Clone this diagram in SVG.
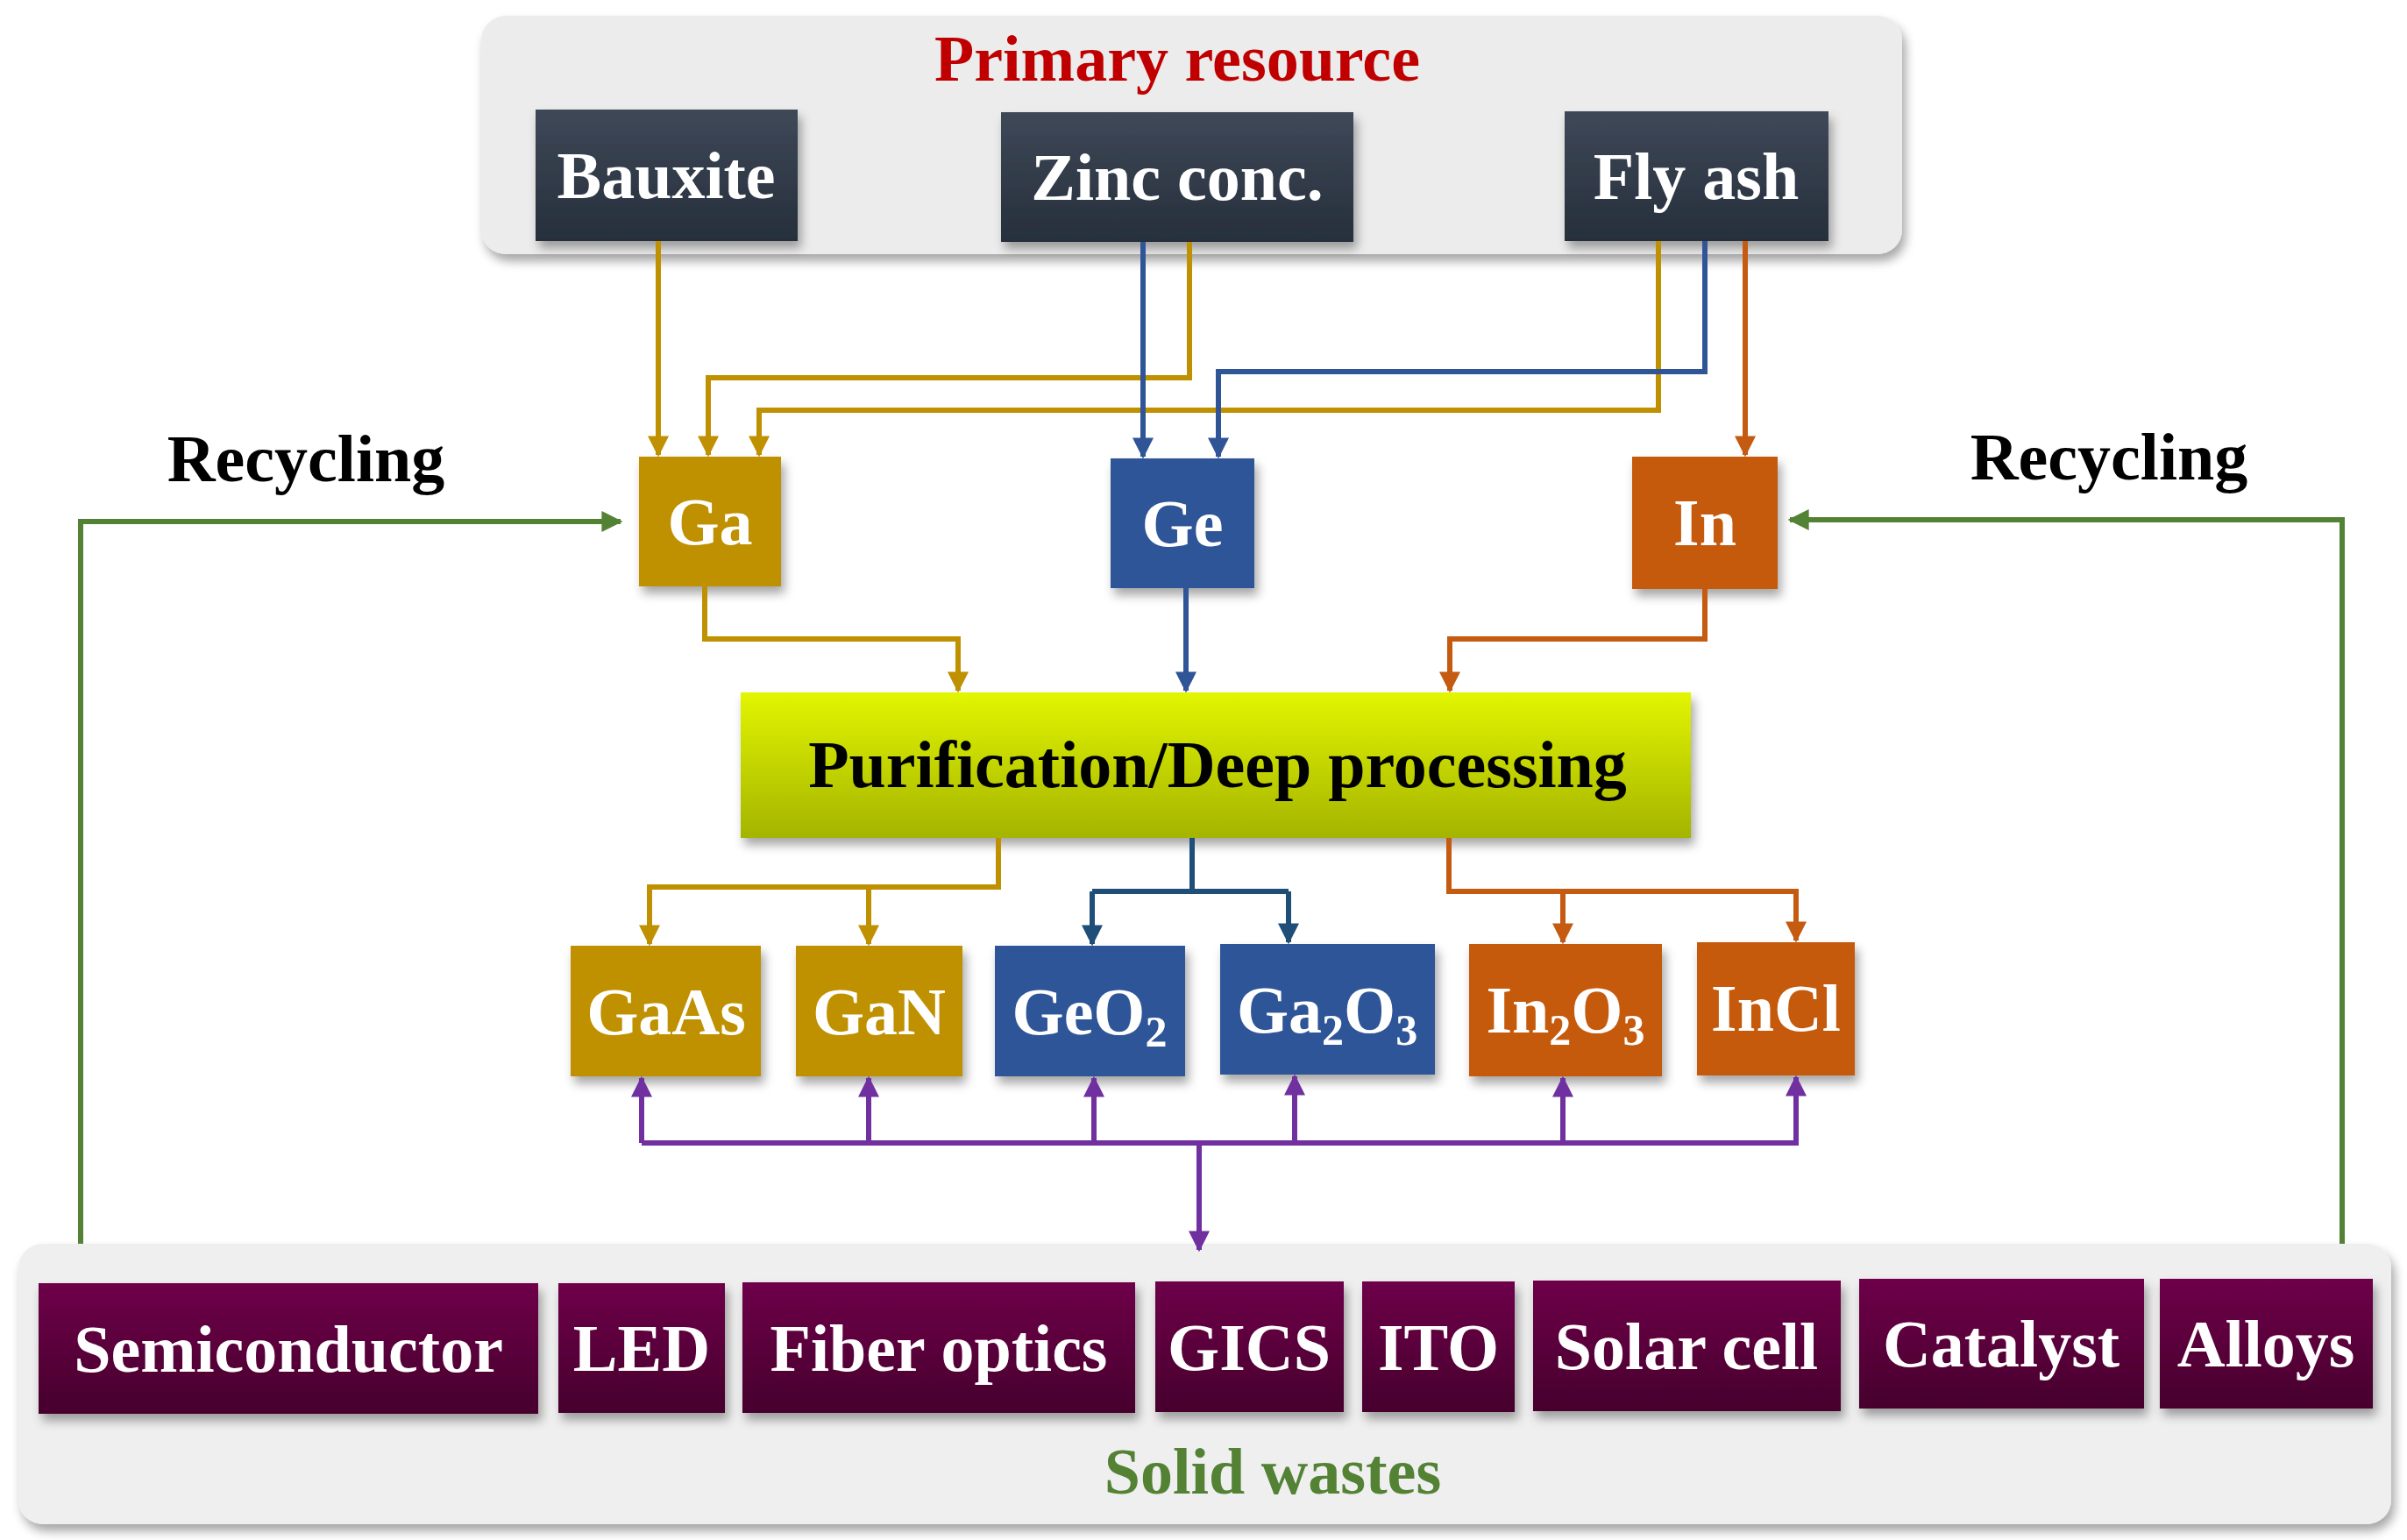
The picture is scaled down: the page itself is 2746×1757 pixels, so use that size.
<svg xmlns="http://www.w3.org/2000/svg" width="2746" height="1757" viewBox="0 0 2746 1757">
<defs>
<filter id="sh" x="-10%" y="-10%" width="130%" height="140%"><feDropShadow dx="4" dy="8" stdDeviation="6" flood-color="#000" flood-opacity="0.35"/></filter>
<linearGradient id="dk" x1="0" y1="0" x2="0" y2="1"><stop offset="0" stop-color="#3e4858"/><stop offset="1" stop-color="#262f3b"/></linearGradient>
<linearGradient id="pu" x1="0" y1="0" x2="0" y2="1"><stop offset="0" stop-color="#6e0049"/><stop offset="1" stop-color="#46002d"/></linearGradient>
<linearGradient id="yg" x1="0" y1="0" x2="0" y2="1"><stop offset="0" stop-color="#e2f500"/><stop offset="1" stop-color="#a4b400"/></linearGradient>
<marker id="ah" viewBox="0 0 10 10" refX="9" refY="5" markerWidth="4" markerHeight="4" orient="auto" markerUnits="strokeWidth"><path d="M0,0 L10,5 L0,10 z" fill="context-stroke"/></marker>
<marker id="ag" viewBox="0 0 10 10" refX="9" refY="5" markerWidth="4" markerHeight="4" orient="auto"><path d="M0,0 L10,5 L0,10 z" fill="#bf9000"/></marker>
<marker id="ab" viewBox="0 0 10 10" refX="9" refY="5" markerWidth="4" markerHeight="4" orient="auto"><path d="M0,0 L10,5 L0,10 z" fill="#2f5597"/></marker>
<marker id="ad" viewBox="0 0 10 10" refX="9" refY="5" markerWidth="4" markerHeight="4" orient="auto"><path d="M0,0 L10,5 L0,10 z" fill="#1f4e79"/></marker>
<marker id="ao" viewBox="0 0 10 10" refX="9" refY="5" markerWidth="4" markerHeight="4" orient="auto"><path d="M0,0 L10,5 L0,10 z" fill="#c55a11"/></marker>
<marker id="ap" viewBox="0 0 10 10" refX="9" refY="5" markerWidth="4" markerHeight="4" orient="auto"><path d="M0,0 L10,5 L0,10 z" fill="#7030a0"/></marker>
<marker id="agr" viewBox="0 0 10 10" refX="9" refY="5" markerWidth="4" markerHeight="4" orient="auto"><path d="M0,0 L10,5 L0,10 z" fill="#548235"/></marker>
</defs>
<style>
text{font-family:"Liberation Serif","Times New Roman",serif;font-weight:bold;text-anchor:middle}
.w{fill:#fff;font-size:76px}
.b{filter:url(#sh)}
.c{fill:none;stroke-width:6}
.g{stroke:#bf9000}.bl{stroke:#2f5597}.db{stroke:#1f4e79}.o{stroke:#c55a11}.p{stroke:#7030a0}.gr{stroke:#548235}
</style>
<rect width="2746" height="1757" fill="#fff"/>
<g id="primary-panel"><rect x="549" y="18" width="1621" height="272" rx="28" fill="#ececec" class="b"/><text x="1343" y="92" font-size="74" fill="#c00000">Primary resource</text></g>
<g id="solid-panel"><rect x="21" y="1419" width="2707" height="320" rx="28" fill="#efefef" class="b"/><text x="1452" y="1704" font-size="74" fill="#548235">Solid wastes</text></g>
<g id="bauxite"><rect x="611" y="125" width="299" height="150" fill="url(#dk)" class="b"/><text class="w" x="760" y="226">Bauxite</text></g>
<g id="zinc"><rect x="1142" y="128" width="402" height="148" fill="url(#dk)" class="b"/><text class="w" x="1343" y="228">Zinc conc.</text></g>
<g id="flyash"><rect x="1785" y="127" width="301" height="148" fill="url(#dk)" class="b"/><text class="w" x="1935" y="227">Fly ash</text></g>
<g id="ga"><rect x="729" y="521" width="162" height="148" fill="#bf9000" class="b"/><text class="w" x="810" y="621">Ga</text></g>
<g id="ge"><rect x="1267" y="523" width="164" height="148" fill="#2f5597" class="b"/><text class="w" x="1349" y="623">Ge</text></g>
<g id="in"><rect x="1862" y="521" width="166" height="151" fill="#c55a11" class="b"/><text class="w" x="1945" y="622">In</text></g>
<g id="purification"><rect x="845" y="790" width="1084" height="166" fill="url(#yg)" class="b"/><text x="1389" y="898" font-size="76" fill="#000">Purification/Deep processing</text></g>
<g id="gaas"><rect x="651" y="1079" width="217" height="149" fill="#bf9000" class="b"/><text class="w" x="760" y="1180">GaAs</text></g>
<g id="gan"><rect x="908" y="1079" width="190" height="149" fill="#bf9000" class="b"/><text class="w" x="1003" y="1180">GaN</text></g>
<g id="geo2"><rect x="1135" y="1079" width="217" height="149" fill="#2f5597" class="b"/><text class="w" x="1243" y="1180">GeO<tspan font-size="50" dy="14">2</tspan></text></g>
<g id="ga2o3"><rect x="1392" y="1077" width="245" height="149" fill="#2f5597" class="b"/><text class="w" x="1514" y="1178">Ga<tspan font-size="50" dy="14">2</tspan><tspan dy="-14">O</tspan><tspan font-size="50" dy="14">3</tspan></text></g>
<g id="in2o3"><rect x="1676" y="1077" width="220" height="151" fill="#c55a11" class="b"/><text class="w" x="1786" y="1178">In<tspan font-size="50" dy="14">2</tspan><tspan dy="-14">O</tspan><tspan font-size="50" dy="14">3</tspan></text></g>
<g id="incl"><rect x="1936" y="1075" width="180" height="152" fill="#c55a11" class="b"/><text class="w" x="2026" y="1176">InCl</text></g>
<g id="semiconductor"><rect x="44" y="1464" width="570" height="149" fill="url(#pu)" class="b"/><text class="w" x="329" y="1565">Semiconductor</text></g>
<g id="led"><rect x="637" y="1464" width="190" height="148" fill="url(#pu)" class="b"/><text class="w" x="732" y="1564">LED</text></g>
<g id="fiber"><rect x="847" y="1463" width="448" height="149" fill="url(#pu)" class="b"/><text class="w" x="1071" y="1564">Fiber optics</text></g>
<g id="gics"><rect x="1318" y="1462" width="215" height="149" fill="url(#pu)" class="b"/><text class="w" x="1425" y="1563">GICS</text></g>
<g id="ito"><rect x="1554" y="1462" width="174" height="149" fill="url(#pu)" class="b"/><text class="w" x="1641" y="1563">ITO</text></g>
<g id="solar"><rect x="1749" y="1461" width="351" height="149" fill="url(#pu)" class="b"/><text class="w" x="1924" y="1562">Solar cell</text></g>
<g id="catalyst"><rect x="2121" y="1459" width="325" height="148" fill="url(#pu)" class="b"/><text class="w" x="2283" y="1559">Catalyst</text></g>
<g id="alloys"><rect x="2464" y="1459" width="243" height="148" fill="url(#pu)" class="b"/><text class="w" x="2585" y="1559">Alloys</text></g>
<g id="labels"><text x="349" y="549" font-size="76" fill="#000">Recycling</text><text x="2406" y="547" font-size="76" fill="#000">Recycling</text></g>
<g id="connectors">
<path class="c g" marker-end="url(#ag)" d="M751,275V519"/>
<path class="c g" marker-end="url(#ag)" d="M1357,276V431H808V519"/>
<path class="c g" marker-end="url(#ag)" d="M1892,275V468H866V519"/>
<path class="c bl" marker-end="url(#ab)" d="M1304,276V521"/>
<path class="c bl" marker-end="url(#ab)" d="M1945,275V424H1390V521"/>
<path class="c o" marker-end="url(#ao)" d="M1991,275V519"/>
<path class="c g" marker-end="url(#ag)" d="M804,669V729H1093V788"/>
<path class="c bl" marker-end="url(#ab)" d="M1353,671V788"/>
<path class="c o" marker-end="url(#ao)" d="M1945,672V729H1654V788"/>
<path class="c g" marker-end="url(#ag)" d="M1139,956V1012H741V1077"/>
<path class="c g" marker-end="url(#ag)" d="M991,1012V1077"/>
<path class="c db" d="M1360,956V1017M1246,1017H1470"/>
<path class="c db" marker-end="url(#ad)" d="M1246,1017V1077"/>
<path class="c db" marker-end="url(#ad)" d="M1470,1017V1075"/>
<path class="c o" marker-end="url(#ao)" d="M1653,956V1017H2049V1073"/>
<path class="c o" marker-end="url(#ao)" d="M1783,1017V1075"/>
<path class="c p" d="M732,1304H2052"/>
<path class="c p" marker-end="url(#ap)" d="M732,1304V1230"/>
<path class="c p" marker-end="url(#ap)" d="M991,1304V1230"/>
<path class="c p" marker-end="url(#ap)" d="M1248,1304V1230"/>
<path class="c p" marker-end="url(#ap)" d="M1477,1304V1228"/>
<path class="c p" marker-end="url(#ap)" d="M1783,1304V1230"/>
<path class="c p" marker-end="url(#ap)" d="M2049,1304V1229"/>
<path class="c p" marker-end="url(#ap)" d="M1368,1304V1426"/>
<path class="c gr" marker-end="url(#agr)" d="M92,1419V595H708"/>
<path class="c gr" marker-end="url(#agr)" d="M2672,1419V593H2042"/>
</g>
</svg>
